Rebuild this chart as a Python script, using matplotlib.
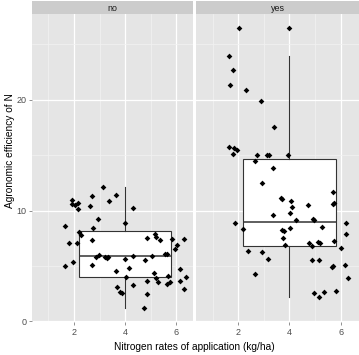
import numpy as np
import matplotlib
matplotlib.use('Agg')
import matplotlib.pyplot as plt

plt.rcParams['font.family'] = ['Liberation Sans', 'DejaVu Sans']

panels = ['no', 'yes']

# jittered observations, fertiliser "no"
no_x = [3.15, 3.63, 2.72, 1.92, 2.14, 1.93, 2.04, 3.36, 2.61, 2.17, 4.32, 2.95,
        3.99, 1.65, 2.76, 2.18, 2.29, 5.15, 5.22, 4.86, 5.37, 5.84, 6.29, 2.69,
        1.82, 2.12, 6.03, 5.95, 2.97, 2.86, 3.23, 3.29, 3.33, 4.32, 5.03, 5.57,
        5.63, 4.00, 4.77, 1.97, 1.67, 2.69, 4.17, 3.66, 6.16, 5.14, 4.04, 5.67,
        6.36, 5.20, 4.84, 5.27, 5.76, 5.63, 6.16, 4.29, 3.69, 6.29, 3.80, 3.89,
        4.84, 4.74]
no_y = [12.16, 11.41, 11.35, 10.96, 10.69, 10.57, 10.48, 10.85, 10.42, 10.12, 10.27, 9.25,
        8.92, 8.62, 8.47, 8.08, 7.78, 7.87, 7.66, 7.54, 7.36, 7.45, 7.45, 7.36,
        7.06, 7.12, 6.94, 6.52, 6.01, 5.86, 5.80, 5.77, 5.80, 5.95, 5.89, 6.10,
        6.10, 5.62, 5.53, 5.35, 4.99, 5.11, 4.86, 4.57, 4.75, 4.36, 4.03, 4.12,
        4.03, 3.91, 3.69, 3.58, 3.55, 3.40, 3.64, 3.28, 3.13, 2.97, 2.65, 2.61,
        2.52, 1.17]

# jittered observations, fertiliser "yes"
yes_x = [2.02, 1.63, 1.78, 1.66, 2.32, 2.88, 3.38, 1.63, 1.83, 1.96, 1.78, 2.73,
         3.14, 3.21, 3.96, 2.65, 3.36, 2.94, 3.68, 3.72, 4.08, 5.69, 5.69, 5.74,
         4.71, 4.11, 4.03, 3.36, 4.27, 4.91, 4.96, 1.87, 6.20, 5.27, 4.03, 2.19,
         3.70, 3.78, 6.20, 3.73, 5.74, 4.78, 5.12, 5.20, 3.81, 4.88, 6.02, 2.37,
         2.91, 3.17, 4.90, 5.17, 5.70, 5.65, 6.18, 2.67, 6.30, 4.97, 5.36, 5.80,
         5.17]
yes_y = [26.49, 23.96, 22.70, 21.30, 20.87, 19.88, 17.54, 15.74, 15.68, 15.44, 15.08, 15.05,
         14.99, 14.99, 14.99, 14.50, 13.87, 12.52, 11.12, 11.03, 10.90, 11.66, 10.63, 10.69,
         10.54, 10.31, 9.82, 9.59, 9.19, 9.22, 9.19, 8.89, 8.89, 8.56, 8.47, 8.35,
         8.23, 8.20, 7.93, 7.57, 7.27, 7.12, 7.15, 7.09, 6.94, 6.85, 6.67, 6.34,
         6.28, 5.68, 5.53, 5.53, 4.99, 4.93, 5.11, 4.30, 3.91, 2.59, 2.70, 2.77,
         2.25]

# box summaries
box_med = [5.95, 9.01]
box_q1 = [4.03, 6.79]
box_q3 = [8.14, 14.63]
box_lo = [1.17, 2.25]
box_hi = [12.16, 23.94]
box_out = [[], [26.49]]

xs = [no_x, yes_x]
ys = [no_y, yes_y]

fig = plt.figure(figsize=(3.59, 3.55), dpi=100)
W, H = 359.0, 355.0
bottom = 1 - 322 / H
top = 1 - 14 / H
lefts = [31.7, 196.0]
rights = [192.7, 359.0]

tick_col = '#4D4D4D'
for i, name in enumerate(panels):
    ax = fig.add_axes([lefts[i] / W, bottom, (rights[i] - lefts[i]) / W, top - bottom])
    ax.set_facecolor('#E5E5E5')
    for s in ax.spines.values():
        s.set_visible(False)
    ax.set_axisbelow(True)

    stats = [dict(med=box_med[i], q1=box_q1[i], q3=box_q3[i],
                  whislo=box_lo[i], whishi=box_hi[i], fliers=box_out[i])]
    ax.bxp(stats, positions=[4], widths=3.6, showcaps=False, patch_artist=True,
           manage_ticks=False,
           boxprops=dict(facecolor='white', edgecolor='#333333', linewidth=0.8),
           whiskerprops=dict(color='#333333', linewidth=0.8),
           medianprops=dict(color='#333333', linewidth=1.1),
           flierprops=dict(marker='D', markerfacecolor='black', markeredgewidth=0,
                           markersize=2.9))
    ax.scatter(xs[i], ys[i], marker='D', s=8.5, color='black', linewidths=0, zorder=3)

    ax.set_xlim(0.35, 0.35 + (rights[i] - lefts[i]) / 25.6)
    ax.set_ylim(-0.05, 27.75)
    ax.set_xticks([2, 4, 6])
    ax.set_xticks([1, 3, 5], minor=True)
    ax.set_yticks([0, 10, 20])
    ax.set_yticks([5, 15, 25], minor=True)
    ax.grid(which='major', color='white', linewidth=0.9)
    ax.grid(which='minor', color='#F2F2F2', linewidth=0.5)
    ax.tick_params(which='minor', length=0)
    ax.tick_params(which='major', length=2.5, width=0.6, color='#7F7F7F',
                   labelcolor=tick_col, labelsize=6.5, pad=1.5)
    if i > 0:
        ax.tick_params(axis='y', left=False, labelleft=False)

    # facet strip
    st = fig.add_axes([lefts[i] / W, top, (rights[i] - lefts[i]) / W, 13 / H])
    st.set_facecolor('#CCCCCC')
    st.set_xticks([])
    st.set_yticks([])
    for s in st.spines.values():
        s.set_visible(False)
    st.text(0.5, 0.45, name, ha='center', va='center', fontsize=6.4, color='#1A1A1A',
            transform=st.transAxes)

fig.text(0.54, 1 - 346.5 / H, 'Nitrogen rates of application (kg/ha)',
         ha='center', va='center', fontsize=7.3)
fig.text(10 / W, 1 - 151 / H, 'Agronomic efficiency of N',
         ha='center', va='center', rotation=90, fontsize=7.3)

fig.savefig('out.png', dpi=100)
